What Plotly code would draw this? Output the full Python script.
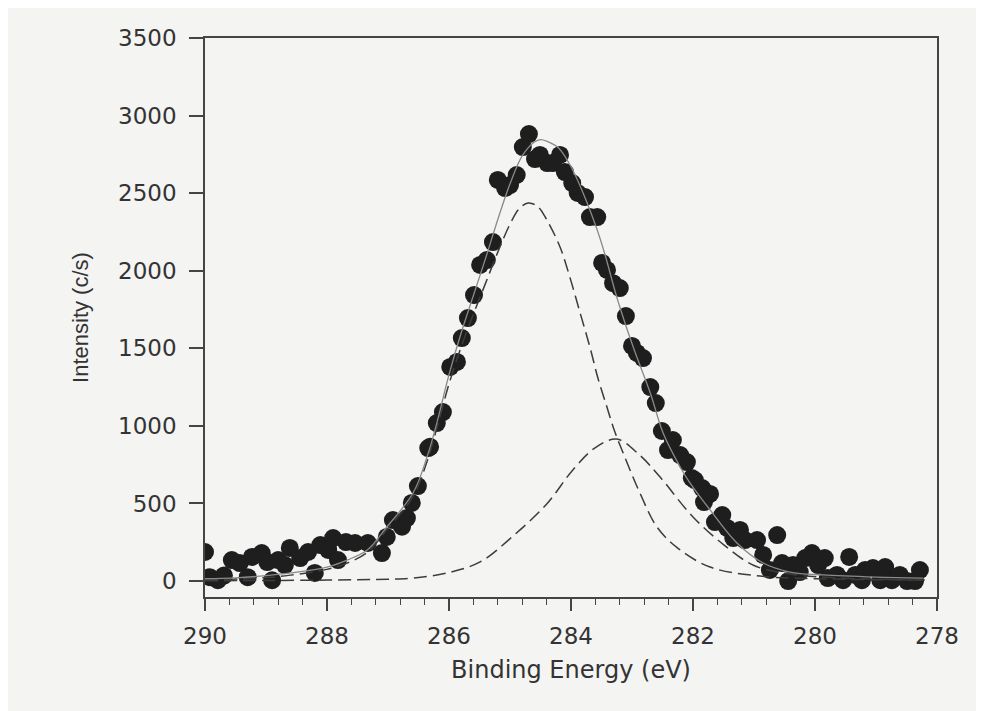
import plotly.graph_objects as go

# Measured data points (binding energy eV, intensity c/s)
energy = [290.00, 289.92, 289.79, 289.69, 289.56, 289.43, 289.30, 289.23, 289.07, 288.98,
          288.90, 288.80, 288.69, 288.61, 288.44, 288.31, 288.20, 288.11, 287.98, 287.90,
          287.82, 287.69, 287.54, 287.33, 287.10, 287.02, 286.92, 286.77, 286.69, 286.61,
          286.51, 286.34, 286.31, 286.20, 286.10, 285.98, 285.87, 285.79, 285.69, 285.59,
          285.49, 285.38, 285.28, 285.20, 285.08, 285.00, 284.89, 284.79, 284.69, 284.59,
          284.51, 284.39, 284.30, 284.18, 284.10, 283.98, 283.89, 283.77, 283.69, 283.57,
          283.49, 283.41, 283.31, 283.20, 283.10, 283.00, 282.92, 282.82, 282.70, 282.61,
          282.51, 282.41, 282.33, 282.21, 282.10, 282.02, 281.97, 281.85, 281.82, 281.72,
          281.64, 281.52, 281.44, 281.34, 281.23, 281.15, 280.95, 280.85, 280.74, 280.62,
          280.54, 280.44, 280.36, 280.25, 280.16, 280.05, 279.95, 279.84, 279.79, 279.64,
          279.54, 279.44, 279.34, 279.23, 279.18, 279.05, 278.93, 278.85, 278.74, 278.61,
          278.49, 278.36, 278.28]
intensity = [187, 25, 5, 35, 135, 116, 25, 155, 180, 122,
             5, 135, 103, 213, 148, 187, 52, 232, 200, 277,
             135, 251, 245, 245, 180, 284, 393, 350, 406, 503,
             612, 857, 865, 1018, 1089, 1380, 1412, 1566, 1695, 1843,
             2037, 2069, 2185, 2585, 2533, 2552, 2617, 2797, 2881, 2720,
             2746, 2694, 2694, 2746, 2636, 2565, 2501, 2475, 2346, 2346,
             2050, 2005, 1920, 1888, 1708, 1515, 1470, 1437, 1250, 1147,
             967, 844, 909, 812, 767, 664, 651, 599, 509, 561,
             380, 425, 342, 277, 329, 264, 264, 168, 71, 296,
             116, 0, 103, 58, 148, 180, 103, 148, 19, 39,
             5, 155, 39, 5, 71, 84, 5, 90, 5, 39,
             0, 0, 71]

# Fitted envelope (solid)
sum_e = [290.0, 289.5, 289.0, 288.6, 288.0, 287.67, 287.34, 287.02, 286.59, 286.36,
         286.2, 286.0, 285.8, 285.6, 285.4, 285.2, 285.0, 284.8, 284.6, 284.5,
         284.4, 284.2, 284.0, 283.8, 283.57, 283.44, 283.25, 282.98, 282.7, 282.49,
         282.21, 282.05, 281.72, 281.28, 280.85, 280.41, 279.87, 279.0, 278.23]
sum_v = [15, 20, 35, 52, 90, 135, 200, 348, 567, 800,
         1018, 1330, 1600, 1840, 2080, 2330, 2560, 2740, 2830, 2845,
         2835, 2790, 2670, 2500, 2262, 2100, 1831, 1508, 1212, 954,
         735, 632, 458, 245, 116, 58, 39, 25, 19]

# Component 1 (dashed, main peak)
c1_e = [290.0, 289.0, 288.6, 288.0, 287.67, 287.34, 287.02, 286.59, 286.36, 286.2,
        286.0, 285.8, 285.6, 285.4, 285.2, 285.0, 284.85, 284.7, 284.55, 284.4,
        284.18, 284.02, 283.85, 283.69, 283.56, 283.41, 283.28, 283.15, 282.87, 282.59,
        282.26, 281.72, 280.9, 280.0, 278.2]
c1_v = [8, 22, 38, 75, 115, 185, 330, 545, 770, 985,
        1270, 1510, 1720, 1920, 2120, 2300, 2400, 2437, 2415, 2330,
        2153, 1960, 1727, 1508, 1310, 1120, 960, 830, 567, 348,
        215, 90, 32, 15, 6]

# Component 2 (dashed, lower-BE peak)
c2_e = [290.0, 288.0, 287.0, 286.59, 286.03, 285.49, 284.95, 284.39, 283.97, 283.6,
        283.25, 282.87, 282.54, 282.0, 281.5, 281.0, 280.41, 279.5, 278.2]
c2_v = [2, 6, 12, 19, 52, 123, 290, 500, 716, 860,
        915, 810, 670, 413, 235, 100, 45, 18, 6]

x_ticks = [290, 288, 286, 284, 282, 280, 278]
y_ticks = [0, 500, 1000, 1500, 2000, 2500, 3000, 3500]

bg = "#f4f4f2"
axis_col = "#454545"
txt_col = "#333333"
font_h = "DejaVu Sans, Liberation Sans, Arial, sans-serif"

fig = go.Figure()
fig.add_trace(go.Scatter(x=energy, y=intensity, mode="markers",
                         marker=dict(size=18, color="#1e1e1e", line=dict(width=0)),
                         showlegend=False))
fig.add_trace(go.Scatter(x=c1_e, y=c1_v, mode="lines", line_shape="spline",
                         line=dict(color="#3c3c3c", width=1.5, dash="13px,6px"),
                         showlegend=False))
fig.add_trace(go.Scatter(x=c2_e, y=c2_v, mode="lines", line_shape="spline",
                         line=dict(color="#3c3c3c", width=1.5, dash="13px,6px"),
                         showlegend=False))
fig.add_trace(go.Scatter(x=sum_e, y=sum_v, mode="lines", line_shape="spline",
                         line=dict(color="#8a8a8a", width=1.3),
                         showlegend=False))

fig.update_layout(
    width=976, height=703,
    margin=dict(l=197, r=47, t=30, b=114),
    paper_bgcolor=bg, plot_bgcolor=bg,
    showlegend=False,
)
fig.update_xaxes(
    range=[290, 278], tickvals=x_ticks, ticktext=[str(v) for v in x_ticks],
    showgrid=False, zeroline=False,
    showline=True, linecolor=axis_col, linewidth=1.5, mirror=True,
    ticks="outside", ticklen=12, tickwidth=1.5, tickcolor=axis_col,
    minor=dict(dtick=0.4, tick0=290, ticks="outside", ticklen=6, tickwidth=1.2,
               tickcolor=axis_col, showgrid=False),
    tickfont=dict(family=font_h, size=23, color=txt_col),
    ticklabelstandoff=6,
    title=dict(text="Binding Energy (eV)", font=dict(family=font_h, size=24, color=txt_col),
               standoff=13),
)
fig.update_yaxes(
    range=[-103, 3500], tickvals=y_ticks, ticktext=[str(v) for v in y_ticks],
    showgrid=False, zeroline=False,
    showline=True, linecolor=axis_col, linewidth=1.5, mirror=True,
    ticks="outside", ticklen=14, tickwidth=1.5, tickcolor=axis_col,
    tickfont=dict(family=font_h, size=23, color=txt_col),
    ticklabelstandoff=8,
    title=dict(text="Intensity (c/s)",
               font=dict(family="Liberation Sans, Arial, sans-serif", size=22, color=txt_col),
               standoff=23),
)

fig.write_html("out.html")
